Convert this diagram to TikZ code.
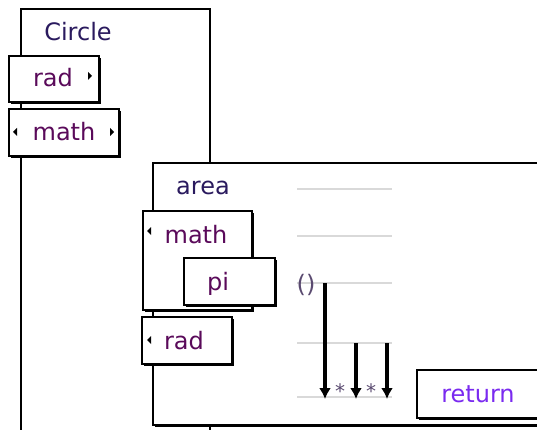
\documentclass[tikz,border=0pt]{standalone}
\usepackage{fontspec}
\setmainfont{DejaVu Sans}
\usetikzlibrary{shadows,arrows.meta}
\definecolor{namecol}{HTML}{2A1A5E}
\definecolor{varcol}{HTML}{5A0A5A}
\definecolor{retcol}{HTML}{7A2AF0}
\definecolor{opcol}{HTML}{5A4A70}
\definecolor{guide}{HTML}{D9D9D9}
\tikzset{
  box/.style={draw=black, line width=2pt, fill=white, inner sep=0pt,
    drop shadow={shadow xshift=2pt, shadow yshift=-2pt, fill=black, opacity=1}},
  frame/.style={draw=black, line width=2pt, fill=white},
  lbl/.style={font=\fontsize{24}{28}\selectfont, inner sep=0pt, anchor=base},
  tri/.style={fill=black},
  guideline/.style={draw=guide, line width=2.5pt},
  flow/.style={draw=black, line width=3.5pt, -{Latex[length=11pt,width=12pt]}},
}
\begin{document}
\begin{tikzpicture}[x=1pt,y=-1pt]
\clip (0,0) rectangle (537,430);
\fill[white] (0,0) rectangle (537,430);
% Circle frame
\path[frame] (21,9) rectangle (210,460);
\node[lbl, text=namecol] (circle) at (78,41) {Circle};
% rad (outer)
\path[box] (9,56) rectangle (99,102);
\node[lbl, text=varcol] (rad1) at (53,87) {rad};
\fill[tri] (88,72) -- (92,76) -- (88,80) -- cycle;
% math (outer)
\path[box] (9,109) rectangle (119,156);
\node[lbl, text=varcol] (math1) at (64,141) {math};
\fill[tri] (17,128) -- (13,132) -- (17,136) -- cycle;
\fill[tri] (110,128) -- (114,132) -- (110,136) -- cycle;
% area frame
\path[box] (153,163) rectangle (560,425);
\node[lbl, text=namecol] (area) at (203,194) {area};
% math (inner)
\path[box] (143,211) rectangle (252,310);
\node[lbl, text=varcol] (math2) at (196,243) {math};
\fill[tri] (151,227) -- (147,231) -- (151,235) -- cycle;
% pi
\path[box] (184,258) rectangle (275,305);
\node[lbl, text=varcol] (pi) at (218,290) {pi};
% rad (inner)
\path[box] (142,317) rectangle (232,364);
\node[lbl, text=varcol] (rad2) at (184,349) {rad};
\fill[tri] (151,336) -- (147,340) -- (151,344) -- cycle;
% guide lines
\foreach \yy in {189,236,283,343,397}
  \draw[guideline] (297,\yy) -- (392,\yy);
% operators
\node[lbl, text=opcol] (paren) at (306,292) {()};
\node[lbl, text=opcol, font=\fontsize{20}{24}\selectfont] (star1) at (340,398) {*};
\node[lbl, text=opcol, font=\fontsize{20}{24}\selectfont] (star2) at (371,398) {*};
% arrows
\coordinate (a1s) at (325,283);
\coordinate (a1e) at (325,399);
\coordinate (a2s) at (356,343);
\coordinate (a2e) at (356,399);
\coordinate (a3s) at (387,343);
\coordinate (a3e) at (387,399);
\draw[flow] (a1s) -- (a1e);
\draw[flow] (a2s) -- (a2e);
\draw[flow] (a3s) -- (a3e);
% return
\path[box] (417,370) rectangle (560,418);
\node[lbl, text=retcol] (ret) at (478,402) {return};
\end{tikzpicture}
\end{document}
